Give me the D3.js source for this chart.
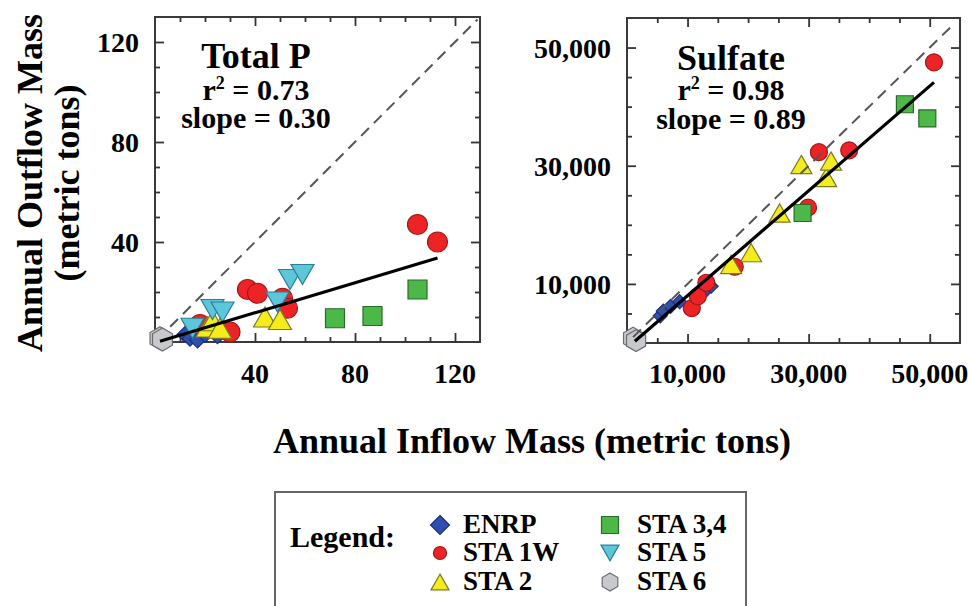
<!DOCTYPE html>
<html><head><meta charset="utf-8">
<script src="https://cdn.jsdelivr.net/npm/d3@7"></script>
<style>
body{margin:0;background:#fff}
text{font-family:"Liberation Serif","Times New Roman",serif;font-weight:bold;fill:#000}
</style>
</head><body>
<svg id="c" width="968" height="606"></svg>
<script>
// ---------- data (metric tons) ----------
const seriesNames = ["ENRP", "STA 1W", "STA 2", "STA 3,4", "STA 5", "STA 6"];

// Total P panel [inflow, outflow]
const tpENRP  = [[12,3],[14,1.5],[17,0.8],[20,3],[25,2.5]];
const tpSTA1W = [[18,7],[30,4],[37,21],[41,19.5],[51,17.5],[53,13.5],[105,47],[113,40]];
const tpSTA2  = [[21,6],[23,8.5],[26,5.5],[44,10],[50,9]];
const tpSTA34 = [[72,9.5],[87,10.4],[105,21]];
const tpSTA5  = [[15,5.5],[23,13],[27,12],[49,16],[54,25],[59,27]];
const tpSTA6  = [[2,1.5],[3,1]];
const tpFitLine = [[2,0.3],[113,33.6]];
const tpOneToOne = [[1,1],[129,129]];
const tpMajorTicks = [40, 80, 120];
const tpMinorTicks = [10,20,30,50,60,70,90,100,110];
const tpStats = {title: "Total P", r2: "0.73", slope: "0.30"};

// Sulfate panel [inflow, outflow]
const soENRP  = [[5500,4600],[6000,5400],[7200,6200],[8700,7000],[13100,9000],[13900,9600]];
const soSTA1W = [[10700,5900],[11700,7900],[13100,10200],[17800,12900],[29900,22900],[31700,32300],[36700,32600],[50700,47500]];
const soSTA2  = [[17200,13300],[20500,15300],[25200,22000],[28800,30200],[32900,28000],[33700,30800]];
const soSTA34 = [[29000,22000],[45900,40400],[49600,38000]];
const soSTA5  = [];
const soSTA6  = [[1000,800],[1500,400]];
const soFitLine = [[1300,300],[50700,44100]];
const soOneToOne = [[1000,1000],[54000,54000]];
const soMajorTicks = [10000, 30000, 50000];
const soMinorTicks = [5000,15000,20000,25000,35000,40000,45000];
const soStats = {title: "Sulfate", r2: "0.98", slope: "0.89"};

// ---------- styles ----------
const style = {
  "ENRP":    {shape:"diamond",  fill:"#2f4fb0", stroke:"#1d2f78"},
  "STA 1W":  {shape:"circle",   fill:"#ee2326", stroke:"#a01818"},
  "STA 2":   {shape:"triUp",    fill:"#f4ec1c", stroke:"#7d7a22"},
  "STA 3,4": {shape:"square",   fill:"#4cb848", stroke:"#2a6a2a"},
  "STA 5":   {shape:"triDown",  fill:"#5ec6da", stroke:"#2a7f96"},
  "STA 6":   {shape:"hexagon",  fill:"#c8c9cc", stroke:"#6c6d70"}
};

function shapePath(shape, s) {
  // s = nominal width in px
  const h = s/2;
  switch (shape) {
    case "circle": return d3.arc()({innerRadius:0, outerRadius:h, startAngle:0, endAngle:2*Math.PI});
    case "square": return `M${-h},${-h}H${h}V${h}H${-h}Z`;
    case "diamond": return `M0,${-h}L${h},0L0,${h}L${-h},0Z`;
    case "triUp": { const t = s*0.87/2; return `M0,${-t}L${h},${t}L${-h},${t}Z`; }
    case "triDown": { const t = s*0.87/2; return `M0,${t}L${h},${-t}L${-h},${-t}Z`; }
    case "hexagon": {
      const pts = d3.range(6).map(i => { const a = Math.PI/3*i - Math.PI/2; return [h*Math.cos(a), h*Math.sin(a)]; });
      return "M" + pts.map(p => p.join(",")).join("L") + "Z";
    }
  }
}

const svg = d3.select("#c");

function panel(cfg) {
  const x = d3.scaleLinear().domain(cfg.domain).range(cfg.xr);
  const y = d3.scaleLinear().domain(cfg.domain).range(cfg.yr);
  const [L, R] = cfg.xr, [B, T] = cfg.yr;
  const g = svg.append("g");

  g.append("rect").attr("x", L).attr("y", T).attr("width", R-L).attr("height", B-T)
    .attr("fill", "#fff").attr("stroke", "#3a3a3a").attr("stroke-width", 2);

  const line = d3.line().x(d => x(d[0])).y(d => y(d[1]));

  // ticks (inward on all four sides)
  const addTicks = (axisFn, scale, vals, len, tr) => {
    const a = g.append("g").attr("transform", tr)
      .call(axisFn(scale).tickValues(vals).tickSize(-len).tickFormat(""));
    a.select(".domain").remove();
    a.selectAll("line").attr("stroke", "#333").attr("stroke-width", 1.8);
  };
  [[cfg.minor, 5], [cfg.major, 9]].forEach(([vals, len]) => {
    addTicks(d3.axisBottom, x, vals, len, `translate(0,${B})`);
    addTicks(d3.axisTop, x, vals, len, `translate(0,${T})`);
    addTicks(d3.axisLeft, y, vals, len, `translate(${L},0)`);
    addTicks(d3.axisRight, y, vals, len, `translate(${R},0)`);
  });

  // tick labels
  const fmt = cfg.fmt;
  g.selectAll(".xl").data(cfg.major).join("text")
    .attr("x", d => x(d)).attr("y", 383).attr("text-anchor", "middle")
    .attr("font-size", 28).text(fmt);
  g.selectAll(".yl").data(cfg.major).join("text")
    .attr("x", L - 16).attr("y", d => y(d) + 10).attr("text-anchor", "end")
    .attr("font-size", 28).text(fmt);

  // 1:1 line
  const dash = g.append("path").datum(cfg.oneToOne).attr("d", line)
    .attr("fill", "none").attr("stroke", "#555").attr("stroke-width", 2)
    .attr("stroke-dasharray", "11,7");

  // markers
  cfg.series.forEach((pts, i) => {
    const st = style[seriesNames[i]];
    g.selectAll(null).data(pts).join("path")
      .attr("transform", d => `translate(${x(d[0])},${y(d[1])})`)
      .attr("d", shapePath(st.shape, cfg.size[st.shape]))
      .attr("fill", st.fill).attr("stroke", st.stroke).attr("stroke-width", 1.2);
  });

  if (cfg.dashOnTop) dash.raise();

  // regression line
  g.append("path").datum(cfg.fit).attr("d", line)
    .attr("fill", "none").attr("stroke", "#000").attr("stroke-width", 3.2);

  // annotation
  const cx = cfg.textX;
  g.append("text").attr("x", cx).attr("y", cfg.textY[0]).attr("text-anchor", "middle")
    .attr("font-size", 36).text(cfg.stats.title);
  const t2 = g.append("text").attr("x", cx).attr("y", cfg.textY[1]).attr("text-anchor", "middle")
    .attr("font-size", 30);
  t2.append("tspan").text("r");
  t2.append("tspan").attr("font-size", 18).attr("dy", -11).text("2");
  t2.append("tspan").attr("dy", 11).text(" = " + cfg.stats.r2);
  g.append("text").attr("x", cx).attr("y", cfg.textY[2]).attr("text-anchor", "middle")
    .attr("font-size", 30).text("slope = " + cfg.stats.slope);
}

// draw order: STA 6 first, then others
const order = s => [s[5], s[0], s[1], s[2], s[3], s[4]];

function panelSeries(arr) { return arr; }

panel({
  domain: [0, 130], xr: [155, 480], yr: [342, 17],
  major: tpMajorTicks, minor: tpMinorTicks, fmt: d => d3.format("d")(d),
  oneToOne: tpOneToOne, fit: tpFitLine, stats: tpStats,
  series: [tpENRP, tpSTA1W, tpSTA2, tpSTA34, tpSTA5, tpSTA6],
  size: {circle: 20, square: 19, diamond: 16, triUp: 23, triDown: 23, hexagon: 23},
  textX: 256, textY: [68, 100, 128], dashOnTop: false
});

panel({
  domain: [0, 55000], xr: [627, 960], yr: [343, 18],
  major: soMajorTicks, minor: soMinorTicks, fmt: d => d3.format(",")(d),
  oneToOne: soOneToOne, fit: soFitLine, stats: soStats,
  series: [soENRP, soSTA1W, soSTA2, soSTA34, soSTA5, soSTA6],
  size: {circle: 17, square: 17, diamond: 14, triUp: 21, triDown: 21, hexagon: 22},
  textX: 731, textY: [70, 100, 129], dashOnTop: true
});

// reorder: bring STA 6 hexagons below others — handled by drawing order below
// axis titles
svg.append("text").attr("transform", "translate(42,183) rotate(-90)")
  .attr("text-anchor", "middle").attr("font-size", 36).text("Annual Outflow Mass");
svg.append("text").attr("transform", "translate(79,183) rotate(-90)")
  .attr("text-anchor", "middle").attr("font-size", 36).text("(metric tons)");
svg.append("text").attr("x", 532).attr("y", 453)
  .attr("text-anchor", "middle").attr("font-size", 36).text("Annual Inflow Mass (metric tons)");

// legend
const lg = svg.append("g");
lg.append("rect").attr("x", 275).attr("y", 492).attr("width", 471).attr("height", 140)
  .attr("fill", "#fff").attr("stroke", "#666").attr("stroke-width", 2);
lg.append("text").attr("x", 290).attr("y", 547).attr("font-size", 30).text("Legend:");
const legendX = [[440, 463], [440, 463], [440, 463], [610, 637], [610, 637], [610, 637]];
const legendRowY = [533, 561, 590];
const legendSize = {circle: 13, square: 17, diamond: 19, triUp: 18, triDown: 18, hexagon: 18};
seriesNames.forEach((name, i) => {
  const st = style[name];
  const row = legendRowY[i % 3];
  lg.append("path").attr("transform", `translate(${legendX[i][0]},${row - 8})`)
    .attr("d", shapePath(st.shape, legendSize[st.shape]))
    .attr("fill", st.fill).attr("stroke", st.stroke).attr("stroke-width", 1.2);
  lg.append("text").attr("x", legendX[i][1]).attr("y", row).attr("font-size", 27).text(name);
});
</script>
</body></html>
